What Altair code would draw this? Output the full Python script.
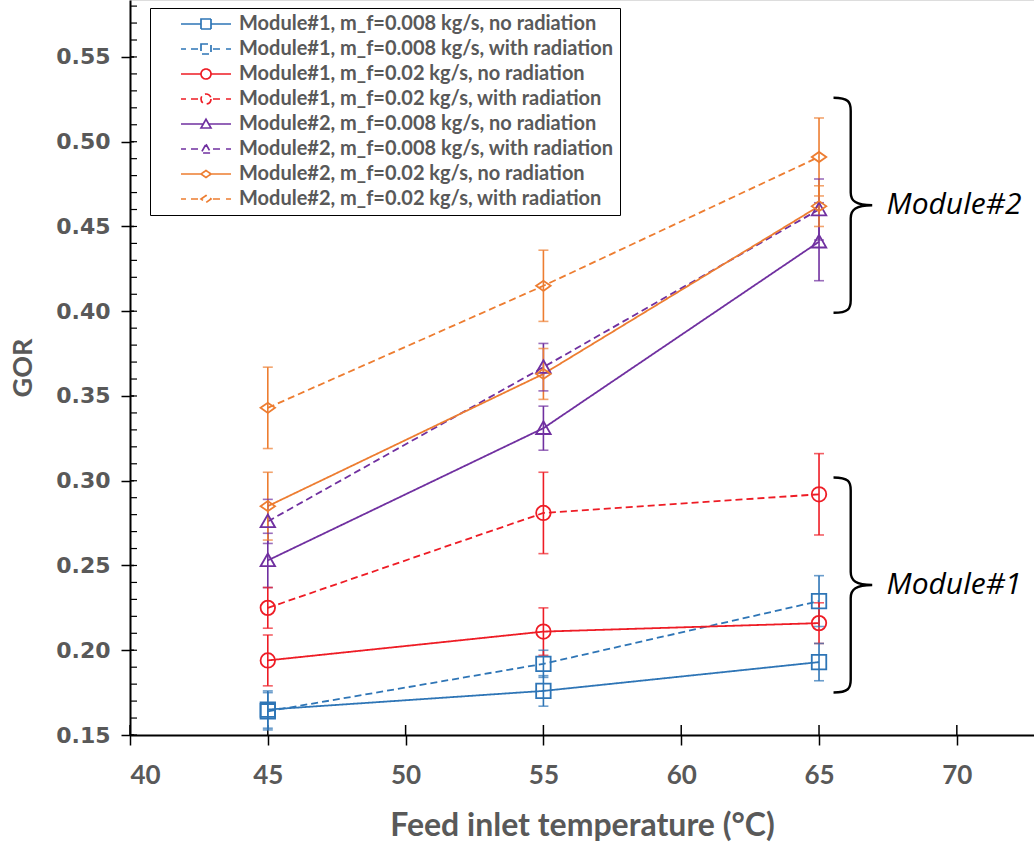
import altair as alt
import pandas as pd

# ---------------- data ----------------
temps = [45, 55, 65]
series = [
    "Module#1, m_f=0.008 kg/s, no radiation",
    "Module#1, m_f=0.008 kg/s, with radiation",
    "Module#1, m_f=0.02 kg/s, no radiation",
    "Module#1, m_f=0.02 kg/s, with radiation",
    "Module#2, m_f=0.008 kg/s, no radiation",
    "Module#2, m_f=0.008 kg/s, with radiation",
    "Module#2, m_f=0.02 kg/s, no radiation",
    "Module#2, m_f=0.02 kg/s, with radiation",
]
gor = [
    [0.165, 0.176, 0.193],
    [0.164, 0.192, 0.229],
    [0.194, 0.211, 0.216],
    [0.225, 0.281, 0.292],
    [0.253, 0.331, 0.441],
    [0.276, 0.367, 0.460],
    [0.285, 0.363, 0.462],
    [0.343, 0.415, 0.491],
]
err = [
    [0.011, 0.009, 0.011],
    [0.011, 0.008, 0.015],
    [0.015, 0.014, 0.012],
    [0.012, 0.024, 0.024],
    [0.016, 0.013, 0.023],
    [0.013, 0.014, 0.018],
    [0.020, 0.015, 0.012],
    [0.024, 0.021, 0.023],
]
x_ticks = [40, 45, 50, 55, 60, 65, 70]
y_ticks = [0.15, 0.20, 0.25, 0.30, 0.35, 0.40, 0.45, 0.50, 0.55]
y_minor = [round(0.15 + 0.01 * i, 2) for i in range(44)]
brace_labels = ["Module#2", "Module#1"]
brace_top = [0.526, 0.3]
brace_bottom = [0.399, 0.177]

# ---------------- styling ----------------
colors = ["#2E75B6", "#2E75B6", "#EE1C25", "#EE1C25",
          "#7030A0", "#7030A0", "#ED7D31", "#ED7D31"]
dashes = [[1, 0], [7, 4]] * 4
SQ = "M -1 -1 H 1 V 1 H -1 Z"
CI = "M 1 0 A 1 1 0 1 1 -1 0 A 1 1 0 1 1 1 0 Z"
TR = "M 0 -0.95 L 1 0.8 L -1 0.8 Z"
DI = "M -1 0 L 0 -0.7 L 1 0 L 0 0.7 Z"
base = [SQ, SQ, CI, CI, TR, TR, DI, DI]
edge = [1, 1, 1, 1, 0.54, 0.54, 1, 1]


def legend_path(i):
    e = edge[i]
    if i % 2 == 0:
        line = f"M -5 0 H {-e} M {e} 0 H 5 "
    else:
        line = f"M -5 0 H -4 M -3 0 H {-max(e, 1.4)} M {max(e, 1.4)} 0 H 3 M 4 0 H 5 "
    return line + base[i]


legend_shapes = [legend_path(i) for i in range(8)]
BRACE = ("M -0.16 -1 C -0.02 -1 0 -0.96 0 -0.88 L 0 -0.12 C 0 -0.04 0.05 0 0.2 0 "
         "C 0.05 0 0 0.04 0 0.12 L 0 0.88 C 0 0.96 -0.02 1 -0.16 1")

rows = []
for i, s in enumerate(series):
    for j, t in enumerate(temps):
        rows.append({"series": s, "temp": t, "gor": gor[i][j],
                     "lo": gor[i][j] - err[i][j], "hi": gor[i][j] + err[i][j],
                     "marker": base[i]})
df = pd.DataFrame(rows)

X_DOM = [40, 72.8]
Y_DOM = [0.15, 0.5836]
GREY = "#595959"

xs = alt.Scale(domain=X_DOM, nice=False, zero=False)
ys = alt.Scale(domain=Y_DOM, nice=False, zero=False)
cs = alt.Scale(domain=series, range=colors)

x_axis = alt.Axis(values=x_ticks, format="d", grid=False, domainColor="black",
                  domainWidth=2, tickColor="black", tickWidth=1.5, tickSize=10,
                  labelFont="Lato", labelFontWeight="bold", labelFontSize=26,
                  labelColor=GREY, labelPadding=17,
                  title="Feed inlet temperature (°C)", titleFont="Lato",
                  titleFontWeight="bold", titleFontSize=32, titleColor=GREY,
                  titlePadding=22)
y_axis = alt.Axis(values=y_ticks, format=".2f", grid=False, domainColor="black",
                  domainWidth=2, tickColor="black", tickWidth=1.5, tickSize=9,
                  labelFont="DejaVu Sans", labelFontWeight="bold", labelFontSize=22,
                  labelColor=GREY, labelPadding=11,
                  title="GOR", titleFont="Lato", titleFontWeight="bold",
                  titleFontSize=27, titleColor=GREY, titlePadding=18)

leg = alt.Legend(
    title=None, orient="none", legendX=20, legendY=8,
    strokeColor="black", fillColor="white",
    padding=6, rowPadding=5, symbolOffset=40, labelOffset=23,
    labelFont="Lato", labelFontWeight="bold", labelFontSize=20,
    labelColor=GREY, labelLimit=600, symbolStrokeWidth=1.7,
)

basech = alt.Chart(df)

legend_layer = basech.mark_point(filled=False, size=121, strokeWidth=1.7, opacity=0).encode(
    x=alt.X("temp:Q", scale=xs, axis=x_axis),
    y=alt.Y("gor:Q", scale=ys, axis=y_axis),
    stroke=alt.Stroke("series:N", scale=cs, legend=leg),
    fill=alt.Fill("series:N", scale=alt.Scale(domain=series, range=["white"] * 8), legend=leg),
    shape=alt.Shape("series:N", scale=alt.Scale(domain=series, range=legend_shapes),
                    legend=leg),
)
lines = basech.mark_line(strokeWidth=1.8).encode(
    x="temp:Q", y="gor:Q",
    color=alt.Color("series:N", scale=cs, legend=None),
    strokeDash=alt.StrokeDash("series:N", scale=alt.Scale(domain=series, range=dashes), legend=None),
    detail="series:N",
)
ebars = basech.mark_rule(strokeWidth=1.6).encode(
    x="temp:Q", y="lo:Q", y2="hi:Q",
    color=alt.Color("series:N", scale=cs, legend=None),
)
cap_lo = basech.mark_tick(orient="horizontal", size=10, thickness=1.6).encode(
    x="temp:Q", y="lo:Q", color=alt.Color("series:N", scale=cs, legend=None))
cap_hi = basech.mark_tick(orient="horizontal", size=10, thickness=1.6).encode(
    x="temp:Q", y="hi:Q", color=alt.Color("series:N", scale=cs, legend=None))
points = basech.mark_point(filled=False, size=210, strokeWidth=1.8, opacity=1).encode(
    x="temp:Q", y="gor:Q",
    shape=alt.Shape("marker:N", scale=None, legend=None),
    color=alt.Color("series:N", scale=cs, legend=None),
)

bdf = pd.DataFrame({"label": brace_labels, "top": brace_top, "bottom": brace_bottom})
bdf["mid"] = (bdf["top"] + bdf["bottom"]) / 2
bdf["bx"] = 66.15
bdf["tx"] = 67.45
braces = alt.Chart(bdf).mark_point(shape=BRACE, size=46225, filled=False,
                                   stroke="black", strokeWidth=2.4, opacity=1).encode(
    x="bx:Q", y="mid:Q")
btext = alt.Chart(bdf).mark_text(align="left", baseline="middle", font="Open Sans",
                                 fontStyle="italic", fontSize=30, color="black").encode(
    x="tx:Q", y="mid:Q", text="label:N")

ymin_df = pd.DataFrame({"v": y_minor})
minor = alt.Chart(ymin_df).mark_rule(color="black", strokeWidth=1.2).encode(
    y="v:Q", x=alt.value(0), x2=alt.value(7))
ymaj_df = pd.DataFrame({"v": y_ticks})
major_in = alt.Chart(ymaj_df).mark_rule(color="black", strokeWidth=1.5).encode(
    y="v:Q", x=alt.value(0), x2=alt.value(4))
xmaj_df = pd.DataFrame({"v": x_ticks})
xmajor_in = alt.Chart(xmaj_df).mark_rule(color="black", strokeWidth=1.5).encode(
    x="v:Q", y=alt.value(725), y2=alt.value(735))

chart = alt.layer(
    legend_layer, minor, major_in, xmajor_in, lines, ebars, cap_lo, cap_hi, points,
    braces, btext,
).properties(
    width=904, height=735,
    autosize=alt.AutoSizeParams(type="none"),
    padding={"left": 130, "top": 0, "right": 0, "bottom": 112},
).configure_view(stroke=None).configure_legend(strokeWidth=1.5).configure(background="white")

chart.save("out.html", embed_options={"renderer": "svg", "actions": False})
